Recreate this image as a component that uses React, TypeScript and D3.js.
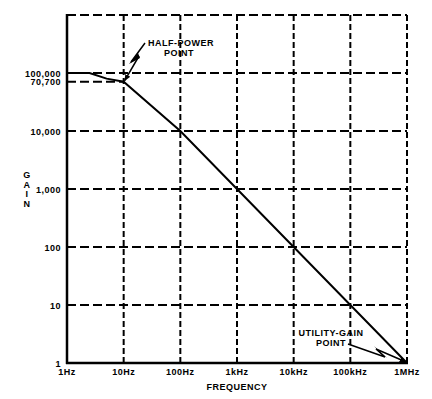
import React from "react";
import * as d3 from "d3";

// Bode plot of an op-amp open-loop gain
const freqs = [1, 2.5, 5, 10, 100, 1000, 10000, 100000, 1000000];
const gains = [100000, 100000, 80000, 70700, 10000, 1000, 100, 10, 1];

const xTicks = [1, 10, 100, 1000, 10000, 100000, 1000000];
const xTickLabels = ["1Hz", "10Hz", "100Hz", "1kHz", "10kHz", "100kHz", "1MHz"];
const yTicks = [1, 10, 100, 1000, 10000, 100000];
const yTickLabels = ["1", "10", "100", "1,000", "10,000", "100,000"];
const halfPower = { f: 10, g: 70700, label: "70,700" };
const unityGain = { f: 1000000, g: 1 };

const FONT = "'Liberation Sans', Arial, sans-serif";

const App = () => {
  const width = 432;
  const height = 399;
  const margin = { top: 15, right: 25, bottom: 36, left: 67 };

  const x = d3
    .scaleLog()
    .domain([1, 1000000])
    .range([margin.left, width - margin.right]);
  const y = d3
    .scaleLog()
    .domain([1, 1000000])
    .range([height - margin.bottom, margin.top]);

  const line = d3
    .line<number>()
    .x((d, i) => x(freqs[i]))
    .y((d) => y(d));

  const x0 = x.range()[0];
  const x1 = x.range()[1];
  const y0 = y.range()[0];
  const y1 = y.range()[1];

  const hpX = x(halfPower.f);
  const hpY = y(halfPower.g);
  const ugX = x(unityGain.f);
  const ugY = y(unityGain.g);

  const textStyle = {
    fontFamily: FONT,
    fontWeight: 700,
    fontSize: 9,
    letterSpacing: 0.5,
    fill: "#000",
  } as React.CSSProperties;

  return (
    <svg
      width={width}
      height={height}
      style={{ position: "absolute", left: 0, top: 0, background: "#fff" }}
    >
      <defs>
        <marker
          id="head"
          viewBox="0 0 10 10"
          refX="9"
          refY="5"
          markerWidth="7"
          markerHeight="7"
          orient="auto"
          markerUnits="userSpaceOnUse"
        >
          <path d="M0,1 L10,5 L0,9 Z" fill="#000" />
        </marker>
      </defs>

      {/* vertical grid */}
      {xTicks.slice(1).map((t) => (
        <line
          key={"vx" + t}
          x1={x(t)}
          x2={x(t)}
          y1={y1}
          y2={y0}
          stroke="#000"
          strokeWidth={2}
          strokeDasharray="6,3"
        />
      ))}
      {/* horizontal grid */}
      {[...yTicks.slice(1), 1000000].map((t) => (
        <line
          key={"hy" + t}
          x1={x0}
          x2={x1}
          y1={y(t)}
          y2={y(t)}
          stroke="#000"
          strokeWidth={2}
          strokeDasharray="9,4"
        />
      ))}
      {/* half-power level */}
      <line
        x1={x0}
        x2={hpX}
        y1={hpY}
        y2={hpY}
        stroke="#000"
        strokeWidth={2}
        strokeDasharray="9,4"
      />

      {/* axes */}
      <line x1={x0} x2={x0} y1={y1 - 1} y2={y0 + 1} stroke="#000" strokeWidth={2.5} />
      <line x1={x0 - 1} x2={x1 + 1} y1={y0} y2={y0} stroke="#000" strokeWidth={2.5} />

      {/* response curve */}
      <path d={line(gains) || ""} fill="none" stroke="#000" strokeWidth={2} />

      {/* y labels */}
      {yTicks.map((t, i) => (
        <text key={"yl" + t} x={61} y={y(t) + 3.5} textAnchor="end" style={textStyle}>
          {yTickLabels[i]}
        </text>
      ))}
      <text x={61} y={hpY + 3.5} textAnchor="end" style={textStyle}>
        {halfPower.label}
      </text>

      {/* x labels */}
      {xTicks.map((t, i) => (
        <text key={"xl" + t} x={x(t)} y={375} textAnchor="middle" style={textStyle}>
          {xTickLabels[i]}
        </text>
      ))}

      <text x={x(1000)} y={390} textAnchor="middle" style={textStyle}>
        FREQUENCY
      </text>

      {["G", "A", "I", "N"].map((c, i) => (
        <text key={"g" + i} x={27} y={178 + i * 9.5} textAnchor="middle" style={textStyle}>
          {c}
        </text>
      ))}

      {/* half-power annotation */}
      <text x={148} y={46} style={textStyle}>
        HALF-POWER
      </text>
      <text x={179} y={56} textAnchor="middle" style={textStyle}>
        POINT
      </text>
      <path
        d={`M145,43 L131,62 L139,56 L${hpX + 1},${hpY - 1}`}
        fill="none"
        stroke="#000"
        strokeWidth={1.5}
        markerEnd="url(#head)"
      />
      <path d="M129,64 L138,53 L140,58 Z" fill="#000" />

      {/* unity-gain annotation */}
      <text x={331} y={336} textAnchor="middle" style={textStyle}>
        UTILITY-GAIN
      </text>
      <text x={331} y={346} textAnchor="middle" style={textStyle}>
        POINT
      </text>
      <path
        d={`M348,344 L385,357 L376,349 L${ugX - 1},${ugY - 1}`}
        fill="none"
        stroke="#000"
        strokeWidth={1.5}
        markerEnd="url(#head)"
      />
      <path d="M387,358 L374,346 L380,353 Z" fill="#000" />
    </svg>
  );
};

export default App;
